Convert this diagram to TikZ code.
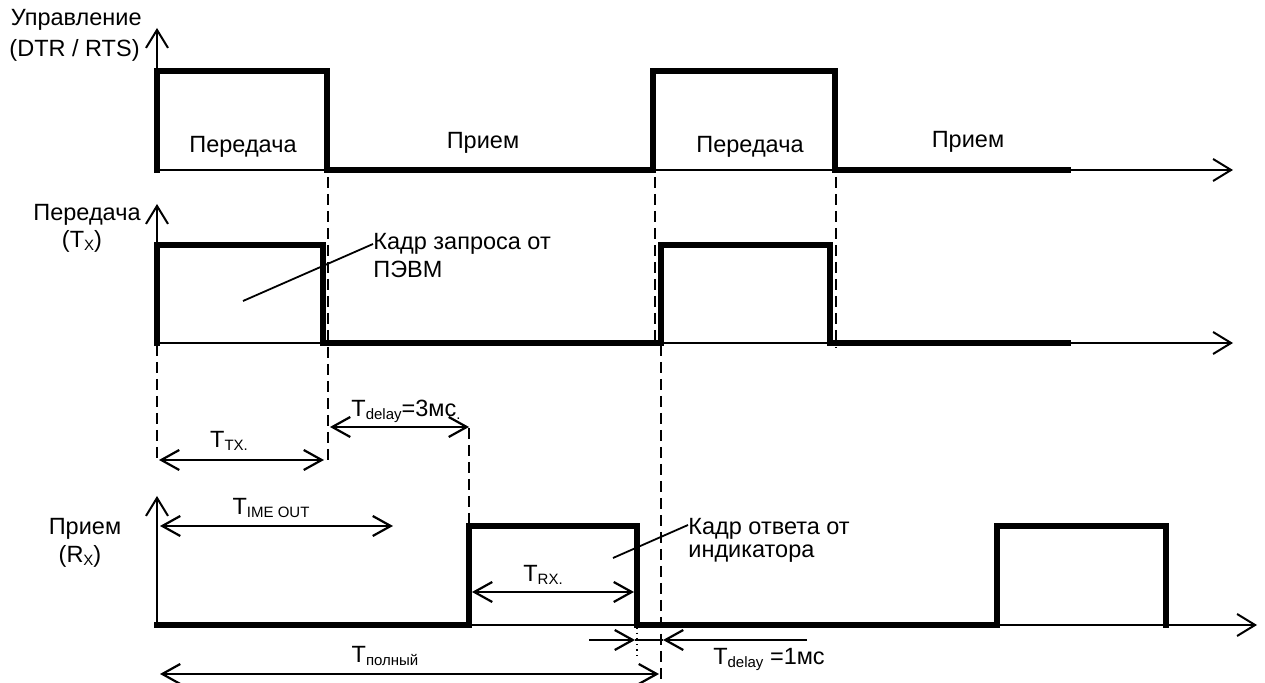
\documentclass[tikz,border=0pt]{standalone}
\usepackage{fontspec}
\setmainfont{Liberation Sans}
\usetikzlibrary{arrows.meta}
\newcommand{\lsub}[1]{\raisebox{-1.5pt}{\fontsize{7.5pt}{9pt}\selectfont #1}}
\begin{document}
\begin{tikzpicture}[x=0.5pt,y=-0.5pt,
  axis/.style={line width=1pt, -{Straight Barb[length=9pt,width=11pt]}},
  sig/.style={line width=2.7pt, line join=miter, line cap=rect},
  dsh/.style={line width=1.25pt, dash pattern=on 5.5pt off 3pt},
  dim/.style={line width=1.1pt, {Straight Barb[length=9pt,width=10pt]}-{Straight Barb[length=9pt,width=10pt]}},
  sarr/.style={line width=1.1pt, -{Straight Barb[length=9pt,width=10pt]}},
  lbl/.style={font=\fontsize{11.75pt}{14pt}\selectfont, inner sep=0pt},
  lead/.style={line width=0.9pt}]
\useasboundingbox (0,0) rectangle (1265,683);

% ---------- top: control ----------
\draw[axis] (157,170) -- (157,28);
\draw[axis] (157,170) -- (1233,170);
\draw[sig] (157,170) -- (157,71) -- (327,71) -- (327,170) -- (653,170) -- (653,71) -- (835,71) -- (835,170) -- (1068,170);
\node[lbl, anchor=base east] (ctrl1) at (142,26) {Управление};
\node[lbl, anchor=base east] (ctrl2) at (140,57) {(DTR / RTS)};
\node[lbl, anchor=base] (p1) at (243,153) {Передача};
\node[lbl, anchor=base] (r1) at (483,149) {Прием};
\node[lbl, anchor=base] (p2) at (750,153) {Передача};
\node[lbl, anchor=base] (r2) at (968,148) {Прием};

% ---------- middle: Tx ----------
\draw[axis] (157,343) -- (157,204);
\draw[axis] (157,343) -- (1233,343);
\draw[sig] (157,343) -- (157,245) -- (323,245) -- (323,343) -- (661,343) -- (661,245) -- (830,245) -- (830,343) -- (1068,343);
\node[lbl, anchor=base] (tx1) at (87,221) {Передача};
\node[lbl, anchor=base] (tx2) at (82,248) {(T\lsub{X})};
\node[lbl, anchor=base west] (zap1) at (373,250) {Кадр запроса от};
\node[lbl, anchor=base west] (zap2) at (373,278) {ПЭВМ};
\coordinate (zapA) at (373,244);
\coordinate (zapB) at (243,301);
\draw[lead] (zapB) -- (zapA);

% ---------- bottom: Rx ----------
\draw[axis] (157,625) -- (157,496);
\draw[axis] (157,625) -- (1257,625);
\draw[sig] (157,625) -- (469,625) -- (469,526) -- (637,526) -- (637,625) -- (997,625) -- (997,526) -- (1166,526) -- (1166,625);
\node[lbl, anchor=base] (rx1) at (85,535) {Прием};
\node[lbl, anchor=base] (rx2) at (80,563) {(R\lsub{X})};
\node[lbl, anchor=base west] (otv1) at (688,535) {Кадр ответа от};
\node[lbl, anchor=base west] (otv2) at (688,558) {индикатора};
\coordinate (otvA) at (688,525);
\coordinate (otvB) at (613,558);
\draw[lead] (otvB) -- (otvA);

% ---------- dashed guides ----------
\coordinate (d1t) at (328,75);   \coordinate (d1b) at (328,462);
\coordinate (d0t) at (157,345);  \coordinate (d0b) at (157,462);
\coordinate (d2t) at (655,75);   \coordinate (d2b) at (655,343);
\coordinate (d3t) at (661,345);  \coordinate (d3b) at (661,683);
\coordinate (d4t) at (836,75);   \coordinate (d4b) at (836,348);
\coordinate (d5t) at (469,428);  \coordinate (d5b) at (469,524);
\draw[dsh] (d1t) -- (d1b);
\draw[dsh] (d0t) -- (d0b);
\draw[dsh] (d2t) -- (d2b);
\draw[dsh] (d3t) -- (d3b);
\draw[dsh] (d4t) -- (d4b);
\draw[dsh] (d5t) -- (d5b);

% ---------- dimensions ----------
\coordinate (ttxL) at (159,460); \coordinate (ttxR) at (324,460);
\draw[dim] (ttxL) -- (ttxR);
\node[lbl, anchor=base] (ttx) at (229,448) {T\lsub{TX.}};

\coordinate (td3L) at (330,427); \coordinate (td3R) at (469,427);
\draw[dim] (td3L) -- (td3R);
\node[lbl, anchor=base] (td3) at (406,417) {T\lsub{delay}=3мс\lsub{.}};

\coordinate (toL) at (160,526); \coordinate (toR) at (393,526);
\draw[dim] (toL) -- (toR);
\node[lbl, anchor=base] (to) at (271,515) {T\lsub{IME OUT}};

\coordinate (trxL) at (472,592); \coordinate (trxR) at (634,592);
\draw[dim] (trxL) -- (trxR);
\node[lbl, anchor=base] (trx) at (543,582) {T\lsub{RX.}};

\coordinate (tpL) at (160,674); \coordinate (tpR) at (659,674);
\draw[dim] (tpL) -- (tpR);
\node[lbl, anchor=base] (tp) at (385,663) {T\lsub{полный}};

\coordinate (td1a) at (589,640); \coordinate (td1b) at (635,640);
\coordinate (td1c) at (807,640); \coordinate (td1d) at (663,640);
\draw[sarr] (td1a) -- (td1b);
\draw[sarr] (td1c) -- (td1d);
\draw[line width=0.6pt] (td1b) -- (td1d);
\coordinate (dotT) at (637,627); \coordinate (dotB) at (637,656);
\draw[line width=0.8pt, dotted] (dotT) -- (dotB);
\node[lbl, anchor=base] (td1) at (769,665) {T\lsub{delay} =1мс};
\end{tikzpicture}
\end{document}
